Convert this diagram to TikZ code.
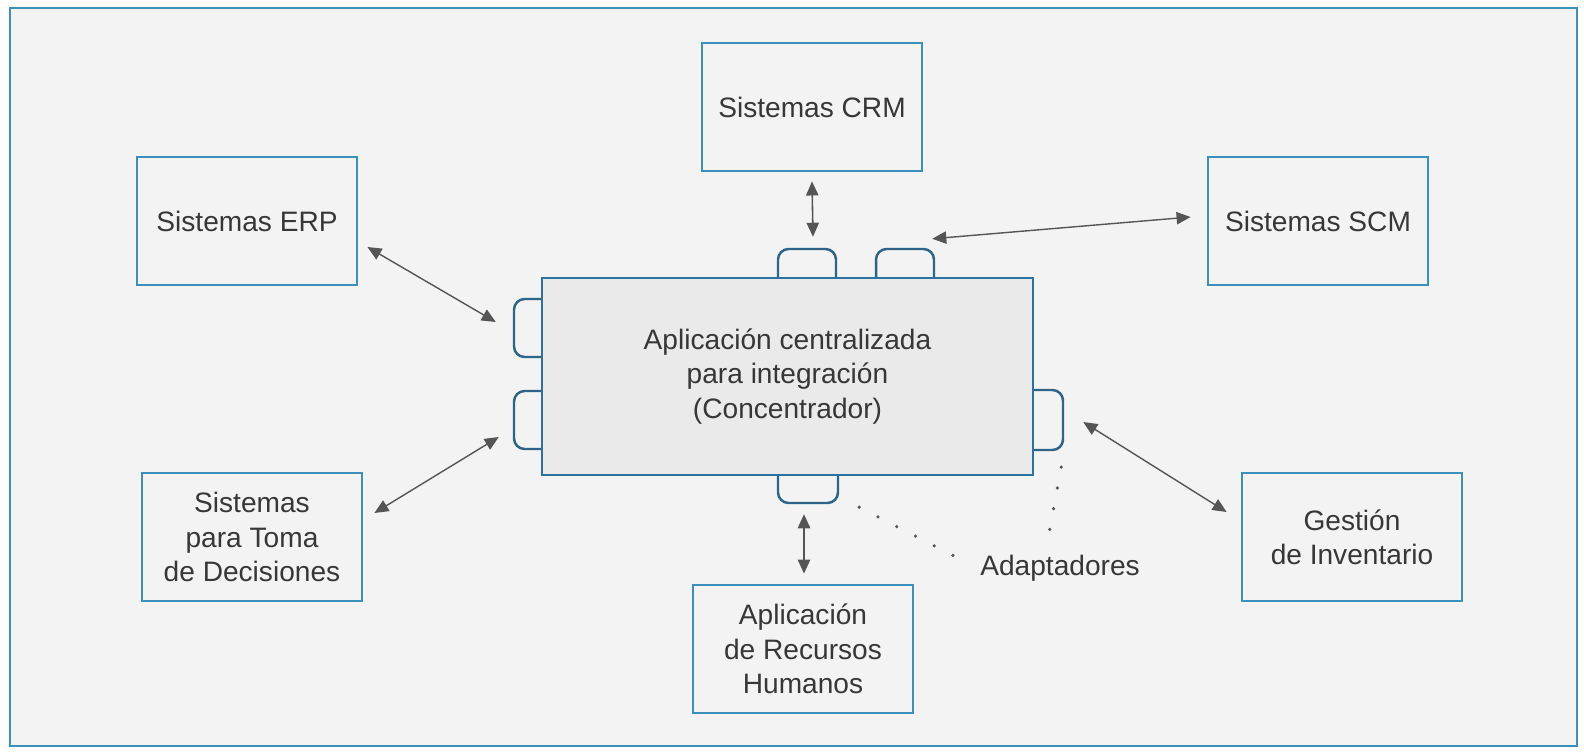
\documentclass[tikz,border=0pt]{standalone}
\usepackage{fontspec}
\setmainfont{Liberation Sans}
\usetikzlibrary{arrows.meta}

\definecolor{azulmarco}{RGB}{58,146,188}
\definecolor{azulcentro}{RGB}{42,115,160}
\definecolor{azultab}{RGB}{45,100,135}
\definecolor{fondo}{RGB}{243,243,243}
\definecolor{fondocentro}{RGB}{234,234,234}
\definecolor{gristexto}{RGB}{55,55,55}
\definecolor{grisflecha}{RGB}{85,85,85}

\begin{document}
\begin{tikzpicture}[x=0.02cm, y=-0.02cm,
        caja/.style={draw=azulmarco, line width=1.6pt, fill=fondo, minimum width=4.4cm, minimum height=2.56cm,
            align=center, text=gristexto, font=\fontsize{16}{19.5}\selectfont},
        centro/.style={draw=azulcentro, line width=1.6pt, fill=fondocentro, minimum width=9.82cm, minimum height=3.94cm,
            align=center, text=gristexto, font=\fontsize{16}{19.5}\selectfont},
        adaptador/.style={draw=azultab, line width=1.4pt, fill=fondo, rounded corners=6pt},
        flecha/.style={grisflecha, line width=0.8pt, {Triangle[length=8pt,width=7pt]}-{Triangle[length=8pt,width=7pt]}},
        puntos/.style={grisflecha, line width=2pt, line cap=round, dash pattern=on 0pt off 12pt}]
    \useasboundingbox (0,0) rectangle (1584,754);
    \fill[white] (0,0) rectangle (1584,754);
    \draw[azulmarco, line width=1.6pt, fill=fondo] (10,8) rectangle (1577,746);

    \node[caja] (crm) at (812,107) {Sistemas CRM};
    \node[caja] (erp) at (247,221) {Sistemas ERP};
    \node[caja] (scm) at (1318,221) {Sistemas SCM};
    \node[caja] (decision) at (252,537) {Sistemas\\para Toma\\de Decisiones};
    \node[caja] (inventario) at (1352,537) {Gestión\\de Inventario};
    \node[caja] (rrhh) at (803,649) {Aplicación\\de Recursos\\Humanos};

    \node[adaptador, minimum width=1.16cm, minimum height=1cm] (adapA) at (807,274) {};
    \node[adaptador, minimum width=1.16cm, minimum height=1cm] (adapB) at (905,274) {};
    \node[adaptador, minimum width=1.12cm, minimum height=1.16cm] (adapC) at (542,328) {};
    \node[adaptador, minimum width=1.12cm, minimum height=1.16cm] (adapD) at (542,420) {};
    \node[adaptador, minimum width=1.2cm, minimum height=1.2cm] (adapE) at (1033,420) {};
    \node[adaptador, minimum width=1.2cm, minimum height=1.12cm] (adapF) at (808,475) {};

    \node[centro] (concentrador) at (787.5,376.5) {Aplicación centralizada\\para integración\\(Concentrador)};
    \node[inner sep=0pt, text=gristexto, font=\fontsize{16}{19.5}\selectfont] (etiqueta) at (1060,568) {Adaptadores};

    \draw[flecha, line width=0.9pt] ([shift={(0,9)}]crm.south) -- ([shift={(6,-11)}]adapA.north);
    \draw[flecha] ([shift={(-3,-9)}]adapB.north east) -- ([shift={(-16,-4)}]scm.west);
    \draw[flecha] ([shift={(9,26)}]erp.east) -- ([shift={(-17,-6)}]adapC.west);
    \draw[flecha] ([shift={(11,-24)}]decision.east) -- ([shift={(-14,17)}]adapD.west);
    \draw[flecha] ([shift={(19,2)}]adapE.east) -- ([shift={(-14,-25)}]inventario.west);
    \draw[flecha, line width=1.2pt] ([shift={(-4,10)}]adapF.south) -- ([shift={(1,-10)}]rrhh.north);

    \draw[puntos] ([shift={(20,3)}]adapF.south east) -- ([shift={(-24,-11)}]etiqueta.west);
    \draw[puntos] ([shift={(-3,16)}]adapE.south east) -- ([shift={(-12,-16)}]etiqueta.north);
\end{tikzpicture}
\end{document}
